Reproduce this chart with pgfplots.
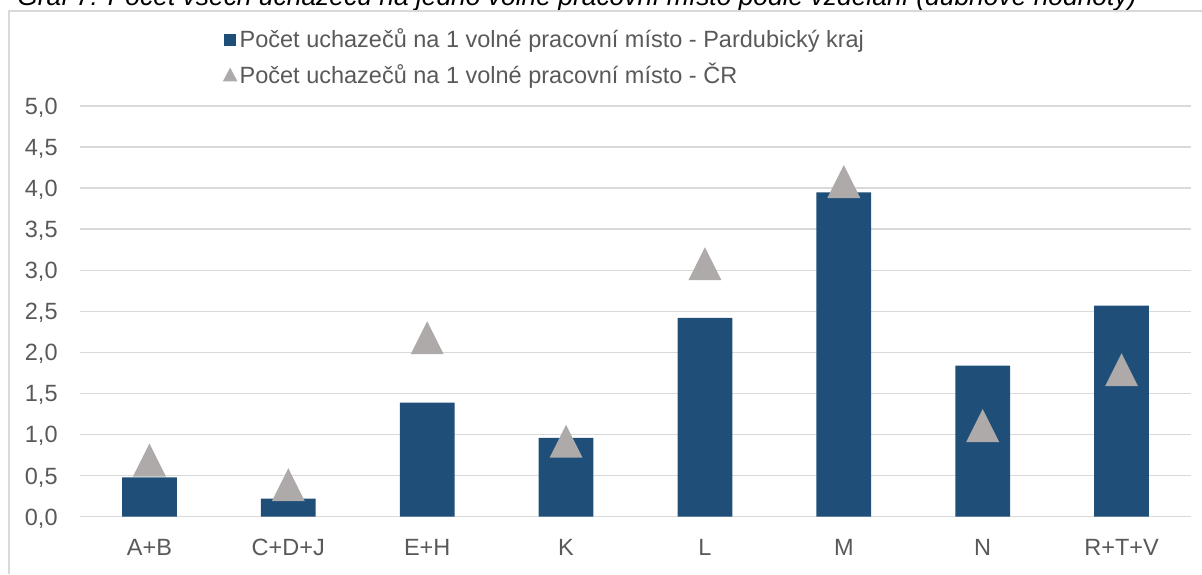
\documentclass[border=0pt]{standalone}
\usepackage{pgfplots}
\pgfplotsset{compat=1.18}
\usepackage{fontspec}
\setmainfont{Liberation Sans}
\definecolor{barblue}{HTML}{1F4E79}
\definecolor{trigray}{HTML}{AEAAAA}
\definecolor{gridgray}{HTML}{D9D9D9}
\definecolor{textgray}{HTML}{595959}
\pgfdeclareplotmark{tri}{%
  \pgfpathmoveto{\pgfqpoint{0pt}{\pgfplotmarksize}}%
  \pgfpathlineto{\pgfqpoint{\pgfplotmarksize}{-\pgfplotmarksize}}%
  \pgfpathlineto{\pgfqpoint{-\pgfplotmarksize}{-\pgfplotmarksize}}%
  \pgfpathclose
  \pgfusepathqfill}
\begin{document}
\begin{tikzpicture}
\useasboundingbox (0pt,0pt) rectangle (601pt,287pt);
\begin{scope}
\clip (0pt,0pt) rectangle (601pt,287pt);
\node[anchor=base west, inner sep=0pt, font=\itshape\fontsize{13.2}{15}\selectfont, text=black] at (8.5pt,284pt) {Graf 7: Počet všech uchazečů na jedno volné pracovní místo podle vzdělání (dubnové hodnoty)};
\end{scope}
\draw[gridgray, line width=1pt] (4.5pt,0pt) -- (4.5pt,281.5pt) -- (601pt,281.5pt);
\begin{axis}[
  at={(40pt,28.65pt)}, anchor=south west,
  scale only axis, width=555.5pt, height=205.35pt,
  xmin=-0.5, xmax=7.5, ymin=0, ymax=5,
  clip=false,
  axis line style={draw=none},
  major tick length=0pt,
  ytick={0,0.5,...,5},
  xtick={0,1,2,3,4,5,6,7},
  xticklabels={A+B,C+D+J,E+H,K,L,M,N,R+T+V},
  ymajorgrids, grid style={gridgray, line width=0.75pt},
  ticklabel style={font=\fontsize{11.75}{13.5}\selectfont, text=textgray},
  yticklabel style={anchor=base east, inner sep=0pt, xshift=-11pt, yshift=-4.2pt,
    /pgf/number format/.cd, fixed, fixed zerofill, precision=1, use comma, assume math mode=true},
  xticklabel style={anchor=base, inner sep=0pt, yshift=-19.2pt},
  legend style={at={(0.1285,1.195)}, anchor=north west, draw=none, fill=none,
    inner sep=0pt, row sep=3.7pt, font=\fontsize{11.75}{13.5}\selectfont, text=textgray,
    nodes={inner sep=1.25pt}},
  legend cell align=left,
]
\addplot[ybar, bar width=27.35pt, fill=barblue, draw=none,
  legend image code/.code={\fill[barblue] (0pt,-3pt) rectangle (6pt,3pt);}]
  coordinates {(0,0.48) (1,0.22) (2,1.39) (3,0.96) (4,2.42) (5,3.95) (6,1.84) (7,2.57)};
\addlegendentry{Počet uchazečů na 1 volné pracovní místo - Pardubický kraj}
\addplot[only marks, mark=tri, mark size=8.25pt, mark options={fill=trigray, draw=none},
  legend image code/.code={\fill[trigray] (3pt,3.2pt) -- (6.3pt,-3pt) -- (-0.3pt,-3pt) -- cycle;}]
  coordinates {(0,0.69) (1,0.39) (2,2.18) (3,0.92) (4,3.08) (5,4.08) (6,1.11) (7,1.79)};
\addlegendentry{Počet uchazečů na 1 volné pracovní místo - ČR}
\end{axis}
\end{tikzpicture}
\end{document}
